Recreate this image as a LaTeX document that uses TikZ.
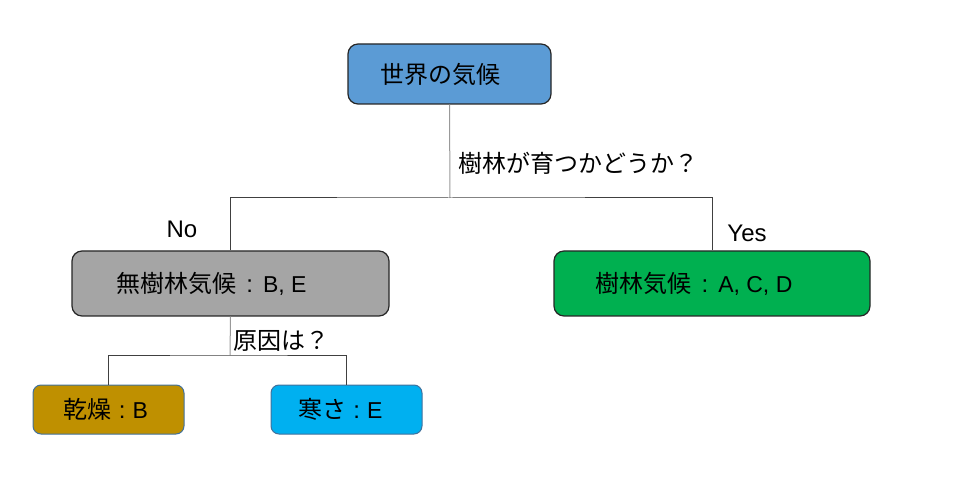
\documentclass[tikz,border=0pt]{standalone}
\usepackage{fontspec}
\setmainfont{Liberation Sans}
\newfontfamily\jp{Noto Sans CJK JP}
\newcommand{\lat}[1]{{\fontsize{11.5}{14}\selectfont #1}}
\definecolor{topblue}{HTML}{5B9BD5}
\definecolor{midgray}{HTML}{A5A5A5}
\definecolor{forestgreen}{HTML}{00B050}
\definecolor{drygold}{HTML}{BF9000}
\definecolor{coldblue}{HTML}{00B0F0}
\definecolor{edgeblue}{HTML}{41719C}

\begin{document}
\begin{tikzpicture}[x=0.5pt,y=-0.5pt,
    box/.style={draw=black!85,line width=0.6pt,rounded corners=5pt,inner sep=0pt,font=\fontsize{12}{14}\selectfont},
    leaf/.style={draw=edgeblue,line width=0.5pt,rounded corners=4pt,inner sep=0pt,minimum width=75.5pt,minimum height=24.5pt,font=\fontsize{12}{14}\selectfont},
    darkline/.style={draw=black!75,line width=0.5pt},
    lightline/.style={draw=black!40,line width=0.5pt},
    lbl/.style={font=\fontsize{12}{14}\selectfont,inner sep=0pt}]
    \useasboundingbox (0,0) rectangle (960,481);
    \node[box,fill=topblue,minimum width=101.5pt,minimum height=30pt] (world) at (449.5,74) {\jp 世界の気候\kern9.5pt};
    \node[box,fill=midgray,minimum width=158.5pt,minimum height=32.5pt] (noforest) at (230.5,283.5) {{\jp 無樹林気候}\kern5pt:\kern5pt\lat{B, E}\kern19pt};
    \node[box,fill=forestgreen,minimum width=158pt,minimum height=32.5pt] (forest) at (712,283.5) {{\jp 樹林気候}\kern5pt:\kern5pt\lat{A, C, D}\kern18pt};
    \node[leaf,fill=drygold] (dry) at (108.5,409.5) {{\jp 乾燥}\kern3.5pt:\kern3.5pt\lat{B}\kern2.5pt};
    \node[leaf,fill=coldblue] (cold) at (346.5,409.5) {{\jp 寒さ}\kern3.5pt:\kern3.5pt\lat{E}\kern6pt};
    \coordinate (split) at (450,198);
    \coordinate (cause) at (230,355);
    \draw[lightline] (world.south) -- (split);
    \draw[darkline] (noforest.north) |- (split) -| (forest.north);
    \draw[lightline] (noforest.south) -- (cause);
    \draw[darkline] (dry.north) |- (cause) -| (cold.north);
    \node[lbl] (q1) at (578,163) {\jp 樹林が育つかどうか？};
    \node[lbl] (no) at (182,229) {No};
    \node[lbl] (yes) at (747,233) {Yes};
    \node[lbl] (q2) at (281,341) {\jp 原因は？};
\end{tikzpicture}
\end{document}
